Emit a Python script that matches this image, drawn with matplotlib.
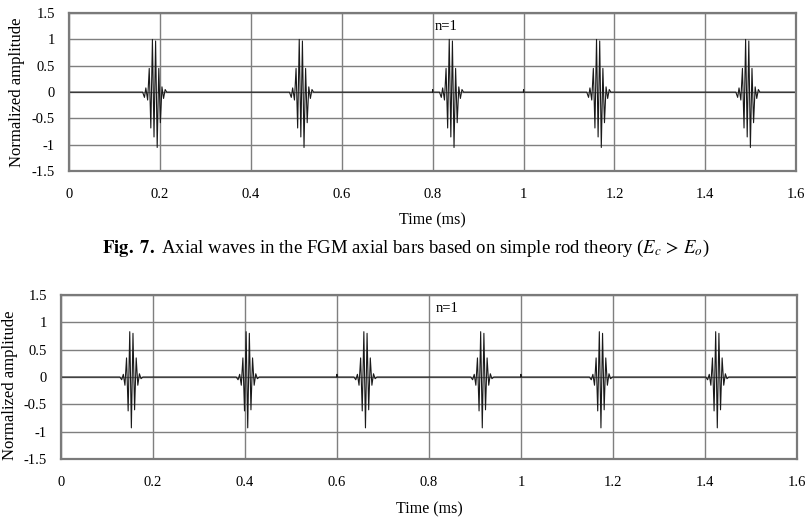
import numpy as np
import matplotlib
matplotlib.use("Agg")
import matplotlib.pyplot as plt

plt.rcParams['font.family'] = ['Liberation Serif', 'DejaVu Serif']
plt.rcParams['mathtext.fontset'] = 'stix'

# valores
x_ticks = [0, 0.2, 0.4, 0.6, 0.8, 1.0, 1.2, 1.4, 1.6]
x_labels = ['0', '0.2', '0.4', '0.6', '0.8', '1', '1.2', '1.4', '1.6']
y_ticks = [-1.5, -1, -0.5, 0, 0.5, 1, 1.5]
y_labels = ['-1.5', '-1', '-0.5', '0', '0.5', '1', '1.5']

# Fig. 7 (arriba): centros de cada paquete (ms)
top_centers = [0.189, 0.512, 0.842, 1.166, 1.494]
top_offsets = [-0.027, -0.023, -0.020, -0.016, -0.0125, -0.009, -0.0055, -0.002,
               0.0015, 0.005, 0.0085, 0.012, 0.0155, 0.019, 0.0225, 0.026]
top_amps = [0.0, -0.1, 0.08, -0.15, 0.45, -0.68, 1.0, -0.85,
            0.97, -1.05, 0.45, -0.58, 0.1, -0.12, 0.05, 0.0]
top_blips = [0.8, 1.0]

# Fig. 8 (abajo)
bot_centers = [0.154, 0.407, 0.663, 0.917, 1.175, 1.428]
bot_offsets = [-0.026, -0.022, -0.0185, -0.015, -0.0115, -0.008, -0.0045, -0.001,
               0.0025, 0.006, 0.0095, 0.013, 0.0165, 0.020, 0.024]
bot_amps = [0.0, -0.05, 0.05, -0.15, 0.35, -0.62, 0.83, -0.93,
            0.8, -0.6, 0.35, -0.15, 0.06, -0.03, 0.0]
bot_blips = [0.6, 1.0]


def build_signal(centers, offsets, amps, blips):
    pts = [(0.0, 0.0), (1.6, 0.0)]
    for c in centers:
        for o, a in zip(offsets, amps):
            pts.append((c + o, a))
    for b in blips:
        pts += [(b - 0.0005, 0.0), (b, 0.05), (b + 0.0005, 0.0)]
    pts.sort()
    t = np.array([p[0] for p in pts])
    y = np.array([p[1] for p in pts])
    return t, y


def style_axes(ax, ylab_x, ylab_y, xlab_y):
    ax.set_xlim(0, 1.6)
    ax.set_ylim(-1.5, 1.5)
    ax.set_xticks(x_ticks)
    ax.set_xticklabels(x_labels)
    ax.set_yticks(y_ticks)
    ax.set_yticklabels(y_labels)
    ax.tick_params(length=0, labelsize=10.5)
    ax.tick_params(axis='x', pad=12)
    ax.tick_params(axis='y', pad=10)
    ax.grid(True, color='#7f7f7f', linewidth=1.0)
    ax.set_axisbelow(True)
    for s in ax.spines.values():
        s.set_color('#7a7a7a')
        s.set_linewidth(1.6)
    ax.set_ylabel('Normalized amplitude', fontsize=12)
    ax.yaxis.set_label_coords(ylab_x, ylab_y)
    ax.set_xlabel('Time (ms)', fontsize=11.5)
    ax.xaxis.set_label_coords(0.5, xlab_y)


fig = plt.figure(figsize=(8.09, 5.22), dpi=100)

ax1 = fig.add_axes([0.0853, 0.672, 0.899, 0.303])
t, y = build_signal(top_centers, top_offsets, top_amps, top_blips)
ax1.plot(t, y, color='#1a1a1a', linewidth=0.8)
style_axes(ax1, -0.0605, 0.5, -0.262)
ax1.text(0.805, 1.25, 'n=1', fontsize=10.5, va='center')

ax2 = fig.add_axes([0.0754, 0.1207, 0.9096, 0.314])
t, y = build_signal(bot_centers, bot_offsets, bot_amps, bot_blips)
ax2.plot(t, y, color='#1a1a1a', linewidth=0.8)
style_axes(ax2, -0.059, 0.45, -0.258)
ax2.text(0.815, 1.25, 'n=1', fontsize=10.5, va='center')

fig.text(0.502, 0.525,
         r'$\mathbf{Fig.\ 7.}$ Axial waves in the FGM axial bars based on simple rod theory ($E_c\, >\, E_o$)',
         ha='center', va='center', fontsize=13.5)

plt.savefig('out.png', dpi=100)
